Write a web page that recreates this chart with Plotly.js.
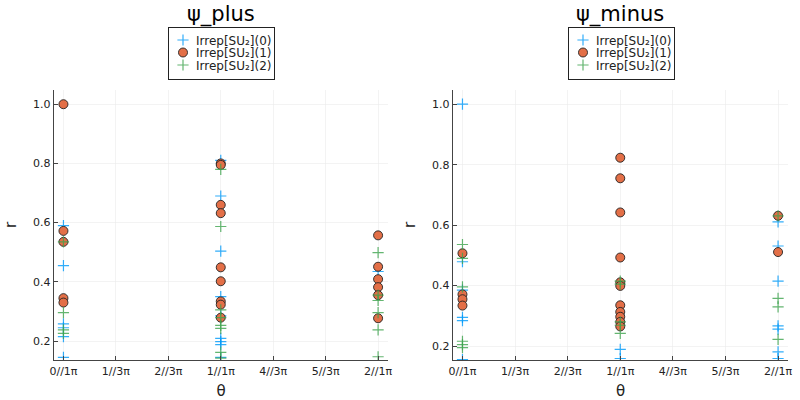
<!DOCTYPE html>
<html>
<head>
<meta charset="utf-8">
<script src="https://cdn.plot.ly/plotly-3.0.1.min.js"></script>
<style>html,body{margin:0;padding:0;background:#fff;}#chart{width:800px;height:400px;}</style>
</head>
<body>
<div id="chart"></div>
<script>
// theta values in units of π
const seriesNames = ["Irrep[SU₂](0)", "Irrep[SU₂](1)", "Irrep[SU₂](2)"];
const tickVals = [0, 1/3, 2/3, 1, 4/3, 5/3, 2];
const tickText = ["0//1π", "1//3π", "2//3π", "1//1π", "4//3π", "5//3π", "2//1π"];
const panelTitles = ["ψ_plus", "ψ_minus"];

// ψ_plus
const plus0_theta = [0,0,0,0,0,0, 1,1,1,1,1,1,1,1,1, 2];
const plus0_r     = [0.59,0.455,0.258,0.245,0.215,0.145, 0.81,0.690,0.504,0.350,0.285,0.209,0.198,0.188,0.145, 0.435];
const plus1_theta = [0,0,0,0,0, 1,1,1,1,1,1,1,1,1, 2,2,2,2,2,2];
const plus1_r     = [1.0,0.572,0.535,0.345,0.330, 0.800,0.795,0.660,0.632,0.449,0.402,0.334,0.323,0.279, 0.557,0.451,0.409,0.382,0.355,0.277];
const plus2_theta = [0,0,0,0, 1,1,1,1,1,1,1,1, 2,2,2,2,2,2];
const plus2_r     = [0.535,0.296,0.238,0.226, 0.780,0.587,0.305,0.279,0.253,0.243,0.162,0.142, 0.499,0.355,0.337,0.296,0.238,0.147];

// ψ_minus
const minus0_theta = [0,0,0,0,0,0, 1,1, 2,2,2,2,2,2,2];
const minus0_r     = [1.0,0.479,0.385,0.295,0.284,0.155, 0.189,0.159, 0.611,0.531,0.415,0.267,0.256,0.181,0.159];
const minus1_theta = [0,0,0,0, 1,1,1,1,1,1,1,1,1,1,1, 2,2];
const minus1_r     = [0.507,0.371,0.355,0.334, 0.823,0.755,0.642,0.493,0.411,0.399,0.335,0.313,0.297,0.280,0.265, 0.631,0.511];
const minus2_theta = [0,0,0,0,0,0, 1,1,1,1,1, 2,2,2,2];
const minus2_r     = [0.536,0.490,0.396,0.216,0.205,0.195, 0.415,0.405,0.280,0.269,0.242, 0.631,0.358,0.330,0.222];

const colors = ["#009AFA", "#E36F47", "#3EA44E"];
const FONT = "DejaVu Sans, Liberation Sans, sans-serif";

function crossTrace(x, y, i, xa, ya, leg) {
  return {x:x, y:y, type:"scatter", mode:"markers", name:seriesNames[i],
    xaxis:xa, yaxis:ya, legend:leg,
    marker:{symbol:"cross-thin", size:8, color:colors[i], opacity:0.8, line:{color:colors[i], width:1.2}}};
}
function circleTrace(x, y, i, xa, ya, leg) {
  return {x:x, y:y, type:"scatter", mode:"markers", name:seriesNames[i],
    xaxis:xa, yaxis:ya, legend:leg,
    marker:{symbol:"circle", size:9, color:colors[i], line:{color:"#222", width:0.9}}};
}

const data = [
  crossTrace(plus0_theta, plus0_r, 0, "x", "y", "legend"),
  circleTrace(plus1_theta, plus1_r, 1, "x", "y", "legend"),
  crossTrace(plus2_theta, plus2_r, 2, "x", "y", "legend"),
  crossTrace(minus0_theta, minus0_r, 0, "x2", "y2", "legend2"),
  circleTrace(minus1_theta, minus1_r, 1, "x2", "y2", "legend2"),
  crossTrace(minus2_theta, minus2_r, 2, "x2", "y2", "legend2")
];

function xAxis(domain, anchor) {
  return {domain:domain, anchor:anchor, range:[-0.06, 2.063], tickvals:tickVals, ticktext:tickText,
    showgrid:true, gridcolor:"#ebebeb", gridwidth:0.6, zeroline:false,
    showline:true, linecolor:"#444", linewidth:1.3, ticks:"inside", ticklen:4, tickcolor:"#444",
    tickfont:{family:FONT, size:11, color:"#222"},
    title:{text:"θ", font:{family:FONT, size:15, color:"#222"}, standoff:13}};
}
function yAxis(domain, anchor, range, tv) {
  return {domain:domain, anchor:anchor, range:range, tickvals:tv, ticktext:tv.map(v=>v.toFixed(1)),
    showgrid:true, gridcolor:"#ebebeb", gridwidth:0.6, zeroline:false,
    showline:true, linecolor:"#444", linewidth:1.3, ticks:"inside", ticklen:4, tickcolor:"#444",
    tickfont:{family:FONT, size:11, color:"#222"},
    title:{text:"r", font:{family:FONT, size:15, color:"#222"}, standoff:12}};
}

const yTicks = [0.2, 0.4, 0.6, 0.8, 1.0];
const legendBase = {bgcolor:"#fff", bordercolor:"#222", borderwidth:1, font:{family:FONT, size:12, color:"#222"},
  xanchor:"left", yanchor:"top", tracegroupgap:0, itemwidth:30};

const layout = {
  width:800, height:400, margin:{l:0, r:0, t:0, b:0},
  paper_bgcolor:"#fff", plot_bgcolor:"#fff", showlegend:true,
  xaxis: xAxis([54/800, 388/800], "y"),
  yaxis: yAxis([40/400, 310/400], "x", [0.136, 1.048], yTicks),
  xaxis2: xAxis([453/800, 788/800], "y2"),
  yaxis2: yAxis([40/400, 310/400], "x2", [0.154, 1.047], yTicks),
  legend: Object.assign({x:168/800, y:1-27/400}, legendBase),
  legend2: Object.assign({x:568/800, y:1-27/400}, legendBase),
  annotations: [
    {text:panelTitles[0], x:221/800, y:1-14/400, xref:"paper", yref:"paper", showarrow:false,
     xanchor:"center", yanchor:"middle", font:{family:FONT, size:21, color:"#000"}},
    {text:panelTitles[1], x:620/800, y:1-14/400, xref:"paper", yref:"paper", showarrow:false,
     xanchor:"center", yanchor:"middle", font:{family:FONT, size:21, color:"#000"}}
  ]
};

function setIf(el, name, val) { if (el.getAttribute(name) !== val) el.setAttribute(name, val); }
function tighten(gd) {
  // compact legend layout to match the reference legend boxes
  gd.querySelectorAll("g.infolayer > g").forEach(function(leg){
    const cls = leg.getAttribute("class") || "";
    if (!/^legend\d*$/.test(cls)) return;
    leg.querySelectorAll("g.traces").forEach(function(it, i){
      setIf(it, "transform", "translate(-5," + (13 + 12.5*i) + ")");
      it.querySelectorAll("text").forEach(function(t){ setIf(t, "x", "33"); });
    });
    leg.querySelectorAll("rect.bg").forEach(function(bg){
      setIf(bg, "width", "106"); setIf(bg, "height", "52");
    });
  });
}

const gdiv = document.getElementById("chart");
Plotly.newPlot(gdiv, data, layout, {staticPlot:true, displayModeBar:false}).then(function(gd){
  tighten(gd);
  gd.on("plotly_afterplot", function(){ tighten(gd); });
  setTimeout(function(){ tighten(gd); }, 100);
});
</script>
</body>
</html>
